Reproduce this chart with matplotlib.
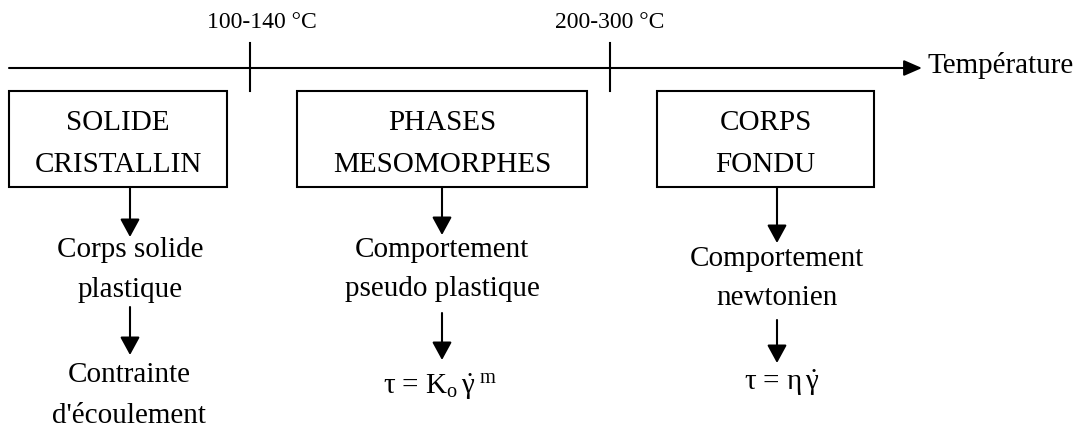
import matplotlib.pyplot as plt

plt.rcParams['font.family'] = ['Liberation Serif', 'DejaVu Serif']
plt.rcParams['mathtext.fontset'] = 'custom'
plt.rcParams['mathtext.rm'] = 'Liberation Serif'
plt.rcParams['mathtext.it'] = 'Liberation Serif'
plt.rcParams['mathtext.bf'] = 'Liberation Serif:bold'

# data
temperatures = ['100-140 °C', '200-300 °C']
phases = ['SOLIDE\nCRISTALLIN', 'PHASES\nMESOMORPHES', 'CORPS\nFONDU']
behaviours = ['Corps solide\nplastique', 'Comportement\npseudo plastique', 'Comportement\nnewtonien']
results = ["Contrainte\nd'écoulement",
           r'$\tau$ = K$_{\rm o}\,\dot{\gamma}^{\;\rm m}$',
           r'$\tau$ = $\eta\,\dot{\gamma}$']

fig = plt.figure(figsize=(10.84, 4.30), dpi=100)
ax = fig.add_axes([0, 0, 1, 1])
ax.set_xlim(0, 1084)
ax.set_ylim(430, 0)
ax.axis('off')

fs = 21
lw = 1.5
head = '-|>,head_length=0.55,head_width=0.3'


def arrow(x0, y0, x1, y1, style=head):
    ax.annotate('', xy=(x1, y1), xytext=(x0, y0),
                arrowprops=dict(arrowstyle=style, color='black', lw=lw,
                                mutation_scale=20, shrinkA=0, shrinkB=0))


def lines(x, baselines, txt):
    for yb, s in zip(baselines, txt.split('\n')):
        ax.text(x, yb, s, fontsize=fs, ha='center', va='baseline')


# temperature axis
arrow(9, 68, 922, 68, '-|>,head_length=0.55,head_width=0.24')
ax.text(928, 73, 'Température', fontsize=fs, va='baseline', ha='left')

tick_x = [250, 610]
label_x = [262, 610]
for x, lx, t in zip(tick_x, label_x, temperatures):
    ax.plot([x, x], [43, 91], color='black', lw=lw)
    ax.text(lx, 28, t, fontsize=17, ha='center', va='baseline')

# boxes and columns
box_left = [9, 297, 657]
box_right = [227, 587, 874]
col_x = [130, 442, 777]
arr1_end = [237, 235, 243]
beh_base = [[257, 297], [257, 296], [266, 305]]
arr2 = [(307, 355), (313, 360), (320, 363)]
res_base = [[382, 423], [394], [390]]
res_x = [129, 440, 782]

for i in range(3):
    l, r = box_left[i], box_right[i]
    ax.add_patch(plt.Rectangle((l, 91), r - l, 96, fill=False, ec='black', lw=lw))
    lines((l + r) / 2, [130, 172], phases[i])
    x = col_x[i]
    arrow(x, 187, x, arr1_end[i])
    lines(x, beh_base[i], behaviours[i])
    arrow(x, arr2[i][0], x, arr2[i][1])
    lines(res_x[i], res_base[i], results[i])

fig.savefig('out.png', dpi=100)
